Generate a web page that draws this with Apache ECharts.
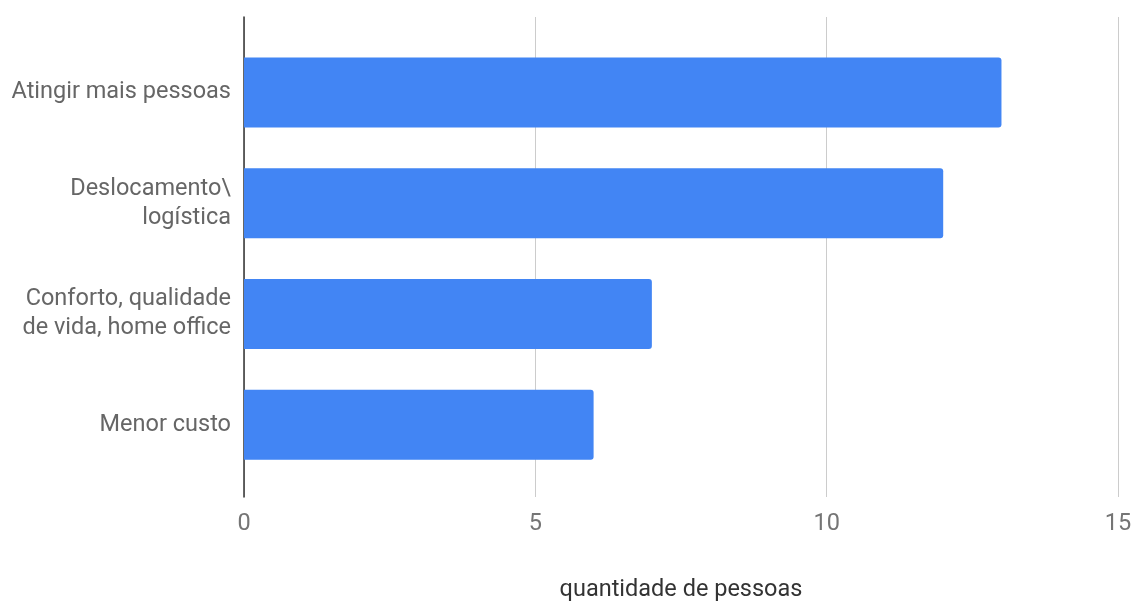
<!DOCTYPE html>
<html>
<head>
<meta charset="utf-8">
<script src="https://cdn.jsdelivr.net/npm/echarts@6/dist/echarts.min.js"></script>
<style>
html,body{margin:0;padding:0;background:#fff;}
#chart{width:1135px;height:602px;}
</style>
</head>
<body>
<div id="chart"></div>
<script>
const categories = ["Atingir mais pessoas", "Deslocamento\\\nlogística", "Conforto, qualidade\nde vida, home office", "Menor custo"];
const values = [13, 12, 7, 6];
const xTicks = [0, 5, 10, 15];
const axisTitle = "quantidade de pessoas";

const chart = echarts.init(document.getElementById('chart'));
const font = 'Roboto, "Noto Sans", sans-serif';
chart.setOption({
  animation: false,
  grid: [
    {left: 244, right: 17, top: 17, height: 480, containLabel: false, outerBoundsMode: 'none'},
    {left: 244, right: 17, top: 37, height: 443, containLabel: false, outerBoundsMode: 'none'}
  ],
  xAxis: [
    {
      gridIndex: 0, type: 'value', min: xTicks[0], max: xTicks[xTicks.length-1], interval: 5,
      axisLine: {show: false}, axisTick: {show: false},
      splitLine: {show: true, lineStyle: {color: '#cccccc', width: 1}},
      axisLabel: {color: '#757575', fontSize: 23.5, fontFamily: font, margin: 15},
      name: axisTitle, nameLocation: 'middle', nameGap: 81,
      nameTextStyle: {color: '#333333', fontSize: 23.5, fontFamily: font}
    },
    {
      gridIndex: 1, type: 'value', min: xTicks[0], max: xTicks[xTicks.length-1], interval: 5,
      show: false
    }
  ],
  yAxis: [
    {
      gridIndex: 0, type: 'value', min: 0, max: 1,
      axisLine: {show: true, lineStyle: {color: '#333333', width: 1.5}},
      axisTick: {show: false}, axisLabel: {show: false}, splitLine: {show: false}
    },
    {
      gridIndex: 1, type: 'category', data: categories, inverse: true,
      axisLine: {show: false}, axisTick: {show: false}, splitLine: {show: false},
      axisLabel: {color: '#666666', fontSize: 23.5, fontFamily: font, margin: 13, lineHeight: 29, align: 'right'}
    }
  ],
  series: [{
    type: 'bar', xAxisIndex: 1, yAxisIndex: 1, data: values,
    barWidth: 70,
    itemStyle: {color: '#4285f4', borderRadius: [0, 3, 3, 0]}
  }]
});
</script>
</body>
</html>
